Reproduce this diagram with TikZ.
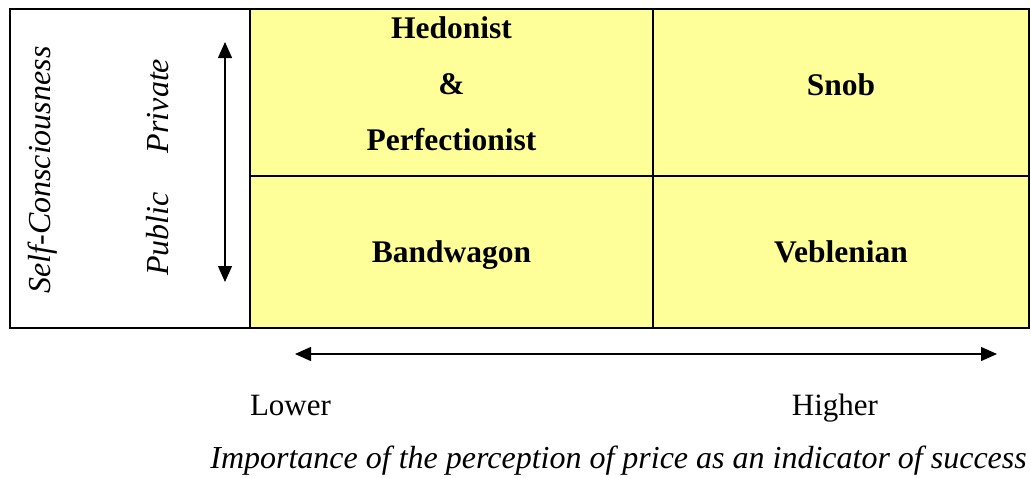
\documentclass[tikz,border=0pt]{standalone}
\usepackage{fontspec}
\setmainfont{Liberation Serif}
\usetikzlibrary{arrows.meta}
\definecolor{cellyellow}{HTML}{FFFF99}

\begin{document}
\begin{tikzpicture}[x=1pt, y=-1pt,
        frame/.style={draw, line width=2pt, inner sep=0pt},
        cell/.style={frame, fill=cellyellow, minimum width=403pt},
        tag/.style={font=\fontsize{31.5}{56}\selectfont\bfseries, align=center},
        axistext/.style={font=\fontsize{31}{37}\selectfont},
        axisit/.style={font=\fontsize{32}{38}\selectfont\itshape},
        dblarrow/.style={{Triangle[length=16pt,width=14pt]}-{Triangle[length=16pt,width=14pt]}, line width=1.3pt}]

        \useasboundingbox (0,0) rectangle (1031,477);

        % Felder
        \node[frame, fill=white, minimum width=240pt, minimum height=319pt] (side) at (130,168.5) {};
        \node[cell, minimum height=167pt] (hpcell) at (451.5,92.5) {};
        \node[cell, minimum width=376pt, minimum height=167pt] (snobcell) at (841,92.5) {};
        \node[cell, minimum height=152pt] (bandcell) at (451.5,252) {};
        \node[cell, minimum width=376pt, minimum height=152pt] (veblcell) at (841,252) {};

        % Typen
        \node[tag] (hp) at (451.5,84) {Hedonist\\\&\\Perfectionist};
        \node[tag, anchor=base] (snob) at (841,95) {Snob};
        \node[tag, anchor=base] (band) at (451.5,262) {Bandwagon};
        \node[tag, anchor=base] (vebl) at (841,262) {Veblenian};

        % Achse links
        \node[axisit, rotate=90] (selfc) at (43,170) {Self-Consciousness};
        \node[axisit, rotate=90] (priv) at (158,106) {Private};
        \node[axisit, rotate=90] (publ) at (158,234) {Public};
        \coordinate (vtop) at (225,42);
        \coordinate (vbot) at (225,282);
        \draw[dblarrow] (vtop) -- (vbot);

        % Achse unten
        \coordinate (hleft) at (295,354);
        \coordinate (hright) at (997,354);
        \draw[dblarrow] (hleft) -- (hright);
        \node[axistext, anchor=base] (lower) at (290.5,415) {Lower};
        \node[axistext, anchor=base] (higher) at (835,415) {Higher};
        \node[axisit, anchor=base east, inner sep=0pt] (imp) at (1027,468) {Importance of the perception of price as an indicator of success};

\end{tikzpicture}
\end{document}
